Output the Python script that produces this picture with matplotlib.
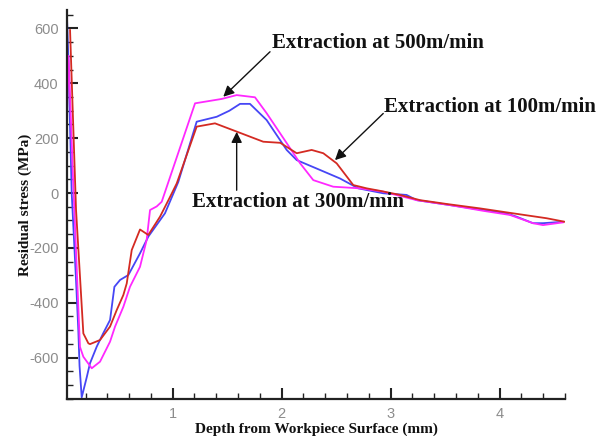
import matplotlib
matplotlib.use("Agg")
import matplotlib.pyplot as plt
from matplotlib.ticker import MultipleLocator

# residual stress profiles, depth in mm, stress in MPa
x_500 = [0.03, 0.042, 0.073, 0.113, 0.134, 0.145, 0.165, 0.211, 0.241, 0.303, 0.363, 0.425,
         0.465, 0.517, 0.593, 0.700, 0.776, 0.929, 1.051, 1.220, 1.404, 1.520, 1.618, 1.709,
         1.862, 2.046, 2.138, 2.352, 2.535, 2.703, 2.932, 3.146, 3.238, 3.544, 3.850, 4.061,
         4.153, 4.306, 4.398, 4.581]
y_500 = [640, 497, 0, -319, -501, -630, -745, -672, -621, -560, -511, -463,
         -342, -317, -299, -220, -159, -74, 40, 260, 278, 300, 325, 325,
         266, 157, 120, 84, 53, 17, -1, -7, -26, -44, -62, -74,
         -86, -110, -110, -105]

x_100 = [0.058, 0.113, 0.18, 0.226, 0.241, 0.333, 0.425, 0.486, 0.547, 0.578, 0.624, 0.700,
         0.776, 0.884, 0.976, 1.037, 1.220, 1.388, 1.587, 1.831, 1.987, 2.138, 2.275, 2.382,
         2.505, 2.657, 2.780, 2.902, 3.086, 3.269, 3.514, 3.818, 4.122, 4.431, 4.599]
y_100 = [594, -62, -512, -548, -551, -536, -487, -427, -372, -330, -208, -133,
         -153, -86, -14, 35, 242, 254, 224, 187, 183, 145, 157, 145,
         108, 29, 17, 8, -7, -26, -40, -56, -74, -92, -105]

x_300 = [0.03, 0.045, 0.086, 0.149, 0.180, 0.257, 0.333, 0.425, 0.471, 0.547, 0.608, 0.700,
         0.761, 0.792, 0.853, 0.899, 1.205, 1.450, 1.587, 1.755, 1.862, 2.046, 2.168, 2.290,
         2.473, 2.718, 2.932, 3.238, 3.544, 3.850, 4.095, 4.306, 4.398, 4.583]
y_300 = [300, 500, 47, -561, -597, -639, -615, -542, -487, -415, -342, -269,
         -171, -62, -49, -32, 327, 343, 357, 349, 291, 182, 109, 47,
         23, 17, 5, -26, -44, -65, -80, -110, -117, -107]

plt.rcParams['axes.unicode_minus'] = False

fig = plt.figure(figsize=(6.13, 4.36), dpi=100)
ax = fig.add_axes([0.1093, 0.0849, 0.8124, 0.892])

ax.plot(x_500, y_500, color='#4646f5', lw=1.3)
ax.plot(x_300, y_300, color='#ff28ff', lw=1.3)
ax.plot(x_100, y_100, color='#d42a22', lw=1.3)

ax.set_xlim(0.03, 4.6)
ax.set_ylim(-751, 667)

ax.xaxis.set_major_locator(MultipleLocator(1))
ax.xaxis.set_minor_locator(MultipleLocator(0.2))
ax.yaxis.set_major_locator(MultipleLocator(200))
ax.yaxis.set_minor_locator(MultipleLocator(50))

for s in ['top', 'right']:
    ax.spines[s].set_visible(False)
for s in ['left', 'bottom']:
    ax.spines[s].set_linewidth(1.6)
    ax.spines[s].set_color('#222222')

ax.tick_params(which='major', direction='in', length=8, width=1.5, color='#222222',
               labelcolor='#8c8c8c', labelsize=10.5, pad=6)
ax.tick_params(which='minor', direction='in', length=4.5, width=1.0, color='#222222')
for lab in ax.get_xticklabels() + ax.get_yticklabels():
    lab.set_family('Liberation Sans')

lbl = dict(family='Liberation Serif', fontweight='bold', fontsize=11, color='#111111')
ax.set_xlabel('Depth from Workpiece Surface (mm)', labelpad=1, **lbl)
ax.set_ylabel('Residual stress (MPa)', labelpad=-2, **lbl)

note = dict(family='Liberation Serif', fontweight='bold', fontsize=15, color='#111111',
            va='center', ha='left')
arrow = dict(arrowstyle='-|>', color='#111111', lw=1.0, mutation_scale=16,
             shrinkA=0, shrinkB=0)

ax.text(1.908, 546, 'Extraction at 500m/min', **note)
ax.annotate('', xy=(1.464, 351), xytext=(1.893, 515), arrowprops=arrow)

ax.text(2.939, 312, 'Extraction at 100m/min', **note)
ax.annotate('', xy=(2.489, 120), xytext=(2.932, 290), arrowprops=arrow)

ax.text(1.174, -33, 'Extraction at 300m/min', **note)
ax.annotate('', xy=(1.587, 223), xytext=(1.587, 10), arrowprops=arrow)

fig.savefig('out.png', dpi=100)
